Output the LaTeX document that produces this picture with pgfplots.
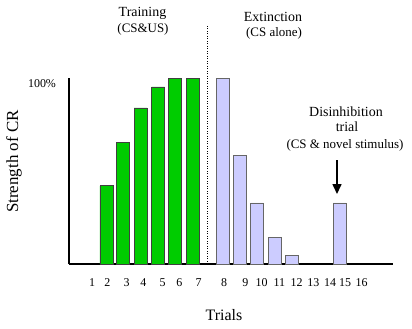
\documentclass[border=0pt]{standalone}
\usepackage{pgfplots}
\pgfplotsset{compat=1.18}
\usetikzlibrary{arrows.meta}
\usepackage{fontspec}
\setmainfont{Liberation Serif}
\definecolor{trgreen}{RGB}{0,204,0}
\definecolor{exblue}{RGB}{204,204,255}
\begin{document}
\begin{tikzpicture}
\path[use as bounding box] (0,0) rectangle (412bp,-329bp);
\begin{axis}[
  at={(69bp,-264bp)}, anchor=south west,
  scale only axis, width=324bp, height=186bp,
  xmin=69, xmax=393, ymin=0, ymax=100,
  axis lines=left,
  axis line style={-, line width=1.6bp, black},
  major tick length=0pt,
  xtick={92,107.3,126.7,143.3,162.7,179.3,198.7,224,245.3,261.7,279.3,296.7,313.3,330,345,361.7},
  xticklabels={1,2,3,4,5,6,7,8,9,10,11,12,13,14,15,16},
  xticklabel style={anchor=center, yshift=-18.7bp, inner sep=0pt, font=\fontsize{12}{14}\selectfont},
  ytick={100}, yticklabels={100\%},
  yticklabel style={anchor=center, xshift=-27bp, yshift=-6bp, inner sep=0pt, font=\fontsize{12}{14}\selectfont},
  clip=false,
  bar width=13,
]
\addplot[ybar, bar shift=0pt, fill=trgreen, draw=black!75, line width=0.8bp]
  coordinates {(106.4,42) (123.2,65.2) (140.5,83.9) (158,95.2) (175.2,100) (192.5,100)};
\addplot[ybar, bar shift=0pt, fill=exblue, draw=black!60, line width=0.8bp]
  coordinates {(223,100) (240,58.6) (257.2,32.8) (275,14.5) (292,4.8) (339.7,32.8)};
\addplot[black, line width=1bp, dash pattern=on 1bp off 1.5bp] coordinates {(207.7,0) (207.7,128)};
\end{axis}
\node[inner sep=0pt, rotate=90, font=\fontsize{17}{20}\selectfont] at (14bp,-161.5bp) {Strength of CR};
\node[inner sep=0pt, font=\fontsize{16}{18}\selectfont] at (224bp,-315bp) {Trials};
\node[inner sep=0pt, font=\fontsize{14}{16}\selectfont] at (142.5bp,-13.5bp) {Training};
\node[inner sep=0pt, font=\fontsize{13}{15}\selectfont] at (143bp,-29bp) {(CS\&US)};
\node[inner sep=0pt, font=\fontsize{14}{16}\selectfont] at (273bp,-17bp) {Extinction};
\node[inner sep=0pt, font=\fontsize{13}{15}\selectfont] at (274bp,-33bp) {(CS alone)};
\node[inner sep=0pt, font=\fontsize{14}{16}\selectfont] at (346bp,-112bp) {Disinhibition};
\node[inner sep=0pt, font=\fontsize{14}{16}\selectfont] at (347bp,-127bp) {trial};
\node[inner sep=0pt, font=\fontsize{13}{15}\selectfont] at (345bp,-145.5bp) {(CS \& novel stimulus)};
\draw[-{Triangle[length=10bp,width=9bp]}, line width=1.6bp] (337bp,-160bp) -- (337bp,-194bp);
\end{tikzpicture}
\end{document}
